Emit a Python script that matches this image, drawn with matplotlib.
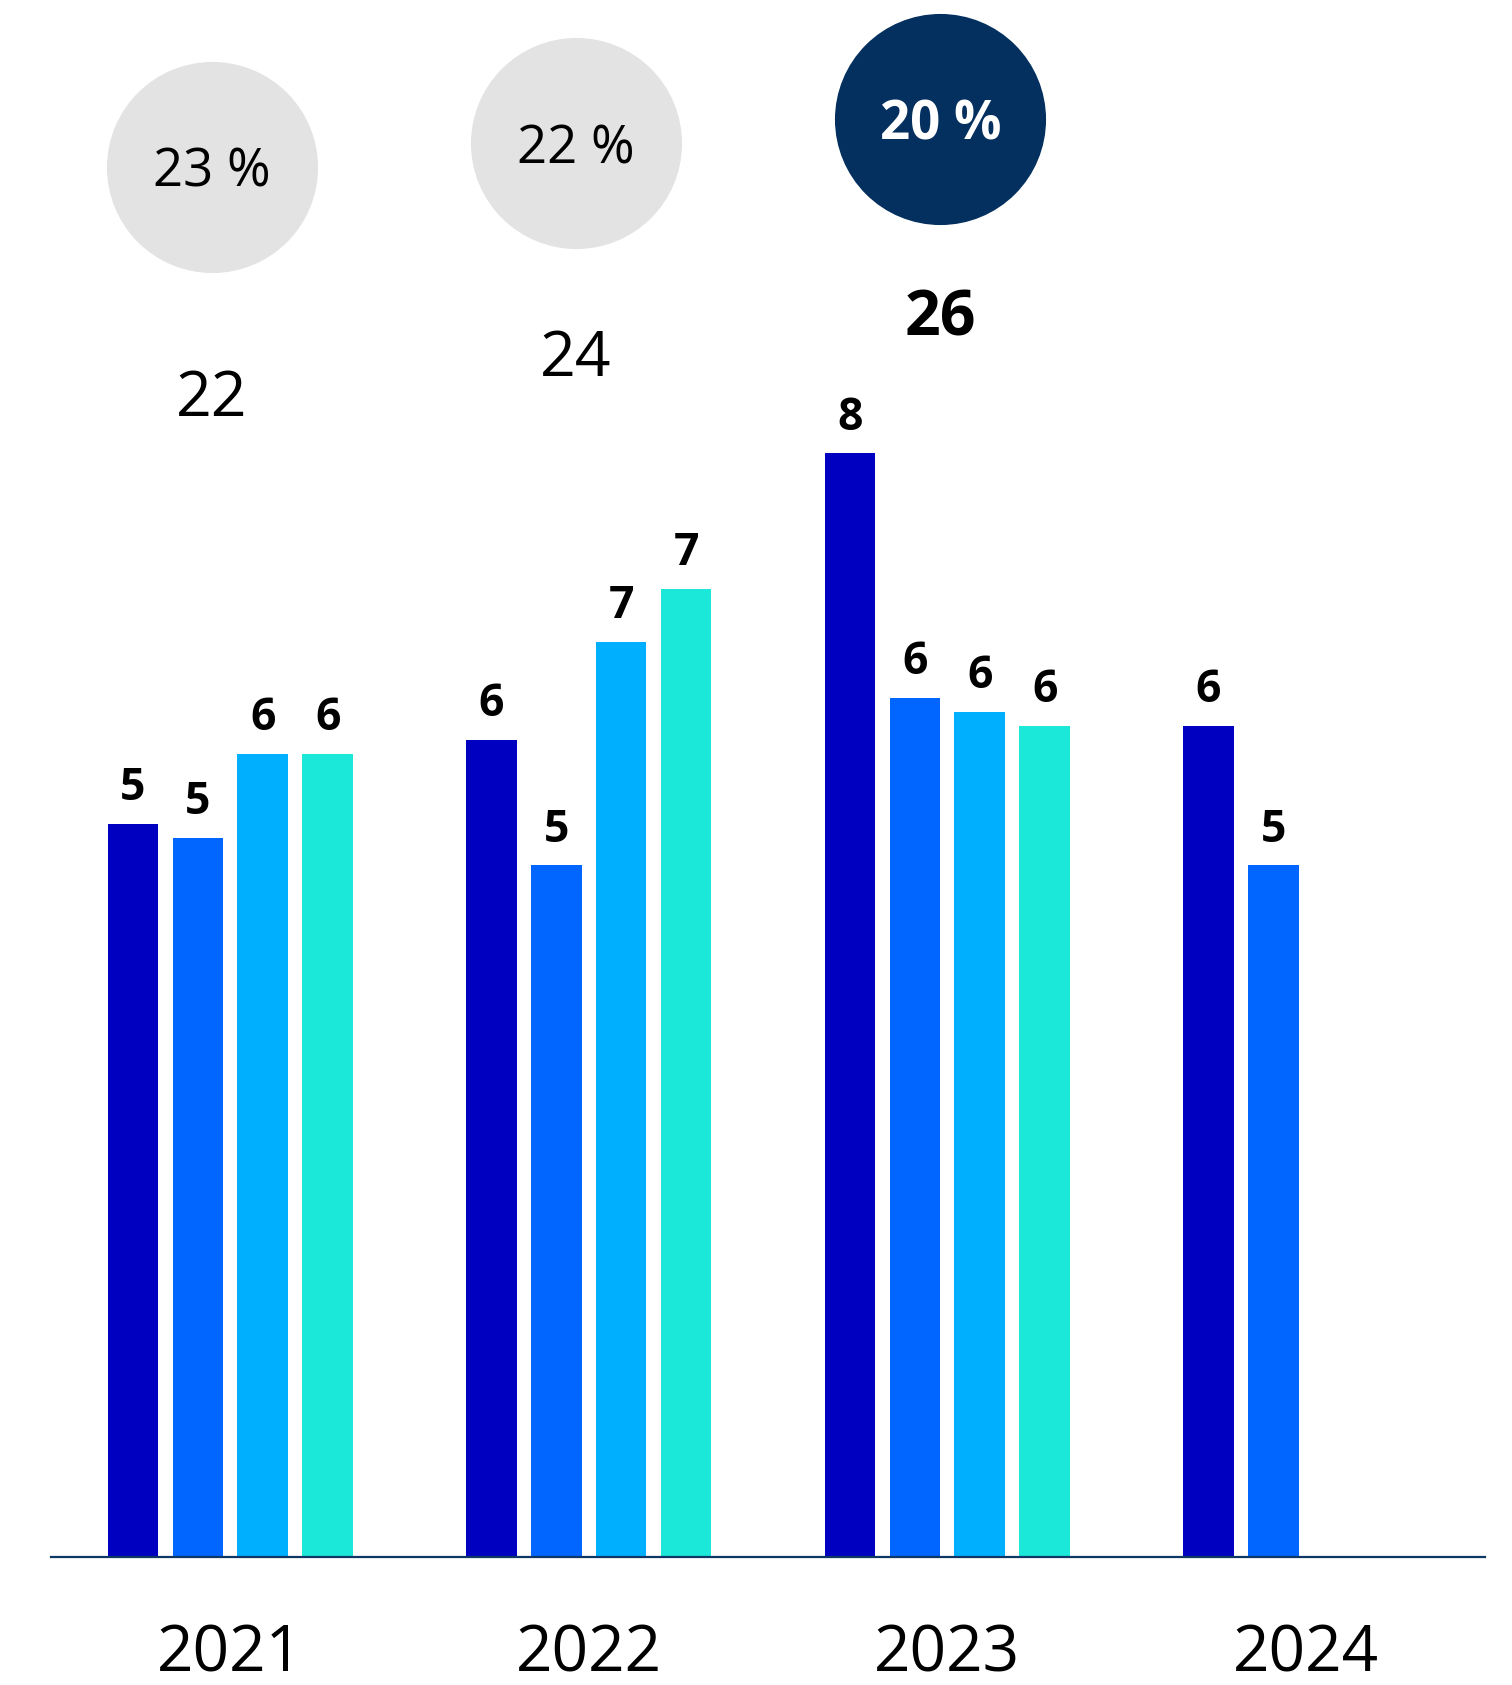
import matplotlib
matplotlib.use("Agg")
import matplotlib.pyplot as plt
import numpy as np

plt.rcParams['font.family'] = ['Open Sans', 'DejaVu Sans']

years = ['2021', '2022', '2023', '2024']
q1 = [5.25, 5.85, 7.9, 5.95]
q2 = [5.15, 4.95, 6.15, 4.95]
q3 = [5.75, 6.55, 6.05, None]
q4 = [5.75, 6.93, 5.95, None]
totals = [22, 24, 26]
shares = ['23 %', '22 %', '20 %']

quarter_colors = ['#0000C0', '#0066FF', '#00B0FF', '#1BE8D8']
circle_colors = ['#E3E3E3', '#E3E3E3', '#03305F']
hl = 2  # highlighted year

fig = plt.figure(figsize=(15.12, 16.85), dpi=100)
rect = [51 / 1512, 128 / 1685, 1434 / 1512, 1557 / 1685]
ax = fig.add_axes(rect)

x = np.arange(len(years))
step = 0.181
width = 0.141
for k, vals in enumerate([q1, q2, q3, q4]):
    xs = [x[i] + (k - 1.5) * step for i, v in enumerate(vals) if v is not None]
    hs = [v for v in vals if v is not None]
    ax.bar(xs, hs, width=width, color=quarter_colors[k], zorder=2)
    for xx, h in zip(xs, hs):
        ax.annotate(f"{int(h + 0.5)}", (xx, h), xytext=(0, 17), textcoords='offset points',
                    ha='center', va='baseline', fontsize=32, fontweight='bold', color='black')

ax.set_xlim(-0.5, 3.5)
ax.set_ylim(0, 11.145)
for s in ['top', 'left', 'right']:
    ax.spines[s].set_visible(False)
ax.spines['bottom'].set_color('#0E3766')
ax.spines['bottom'].set_linewidth(1.6)
ax.set_yticks([])
ax.set_xticks(x)
ax.set_xticklabels(years, fontsize=46)
ax.tick_params(axis='x', length=0, pad=47.5)

# totals above the groups (own overlay axes)
tx = np.arange(len(totals))
ax2 = fig.add_axes(rect, frameon=False)
ax2.set_xlim(-0.441, 3.495)
ax2.set_ylim(-34.63, 42.65)
ax2.axis('off')
for i, t in enumerate(totals):
    ax2.text(tx[i], t, str(t), ha='center', va='baseline', fontsize=45,
             fontweight='bold' if i == hl else 'normal', color='black')

# share circles
ax3 = fig.add_axes(rect, frameon=False)
ax3.set_xlim(-0.441, 3.495)
ax3.set_ylim(-95.53, 36.09)
ax3.axis('off')
for i, t in enumerate(totals):
    ax3.plot(tx[i], t, 'o', ms=152, color=circle_colors[i], mec='none', clip_on=False)
    ax3.text(tx[i], t, shares[i], ha='center', va='center_baseline', fontsize=38,
             fontweight='bold' if i == hl else 'normal',
             color='white' if i == hl else 'black')

fig.savefig('out.png', dpi=100)
